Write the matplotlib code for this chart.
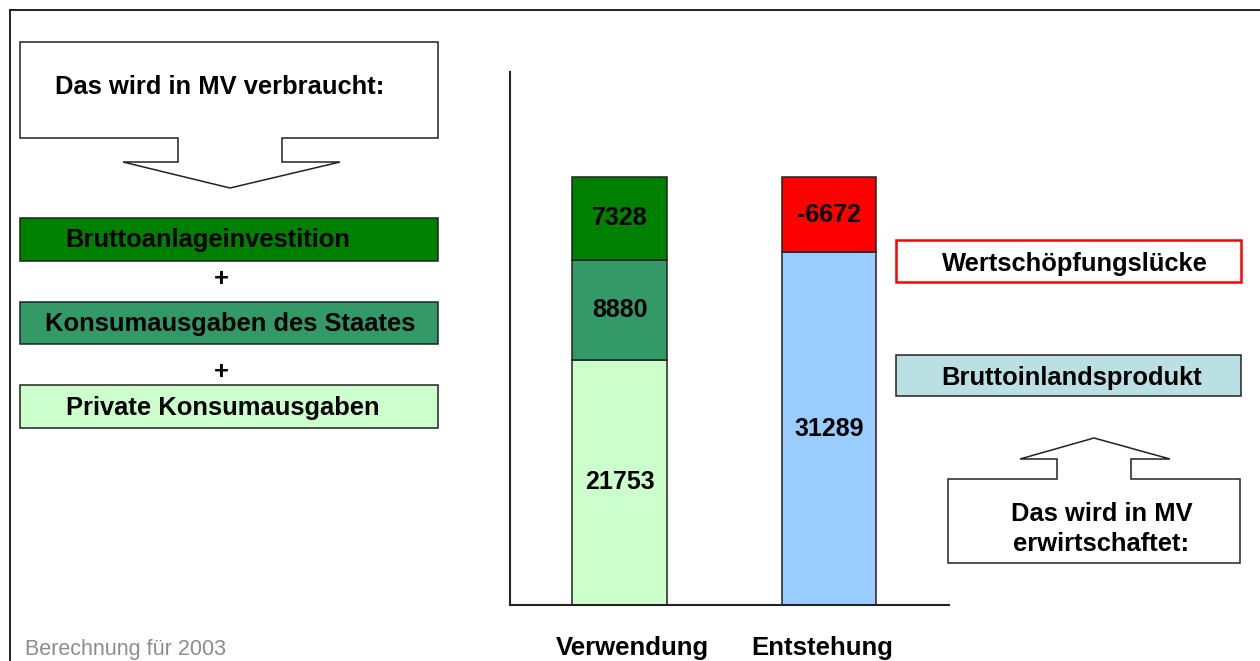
import matplotlib
matplotlib.use('Agg')
import matplotlib.pyplot as plt
from matplotlib.patches import Polygon, Rectangle

plt.rcParams['font.family'] = ['Liberation Sans', 'DejaVu Sans']

# Data
categories = ['Verwendung', 'Entstehung']
verwendung_parts = ['Private Konsumausgaben', 'Konsumausgaben des Staates', 'Bruttoanlageinvestition']
verwendung_values = [21753, 8880, 7328]
entstehung_parts = ['Bruttoinlandsprodukt', 'Wertschöpfungslücke']
entstehung_values = [31289, -6672]

dark_green = '#008000'
mid_green = '#339966'
light_green = '#CCFFCC'
light_blue = '#99CCFF'
red = '#FF0000'
teal = '#BBE0E3'
edge = '#222222'
boxFont = 18.4


def main(saveLocation):
    """Draw the Verwendung / Entstehung diagram."""

    fig = plt.figure(figsize=(12.6, 6.61), dpi=100)

    # Full-figure overlay in pixel coordinates for the boxes and arrows.
    ov = fig.add_axes([0, 0, 1, 1])
    ov.set_xlim(0, 1260)
    ov.set_ylim(661, 0)
    ov.axis('off')

    # Outer frame (only top and left edges visible in the crop).
    ov.plot([10, 1262], [10, 10], color=edge, lw=1.4)
    ov.plot([10, 10], [10, 665], color=edge, lw=1.4)

    # Down-arrow callout on the left.
    down = [(20, 42), (438, 42), (438, 138), (282, 138), (282, 162), (340, 162),
            (230, 188), (123, 162), (178, 162), (178, 138), (20, 138)]
    ov.add_patch(Polygon(down, closed=True, fc='white', ec=edge, lw=1.1))
    ov.text(220, 87, 'Das wird in MV verbraucht:', ha='center', va='center',
            fontsize=boxFont, fontweight='bold')

    # Component boxes on the left.
    boxes = [(218, 261, dark_green, verwendung_parts[2], 208),
             (302, 344, mid_green, verwendung_parts[1], 230),
             (385, 428, light_green, verwendung_parts[0], 223)]
    for top, bottom, color, label, tx in boxes:
        ov.add_patch(Rectangle((20, top), 418, bottom - top, fc=color, ec=edge, lw=1.1))
        ov.text(tx, (top + bottom) / 2 + 1, label, ha='center', va='center',
                fontsize=boxFont, fontweight='bold')
    for y in [279, 372]:
        ov.text(221, y, '+', ha='center', va='center', fontsize=boxFont, fontweight='bold')

    # Right-hand labels.
    ov.add_patch(Rectangle((896, 240), 345, 42, fc='white', ec=red, lw=1.8))
    ov.text(1075, 264, entstehung_parts[1], ha='center', va='center',
            fontsize=boxFont, fontweight='bold')
    ov.add_patch(Rectangle((896, 355), 345, 41, fc=teal, ec=edge, lw=1.1))
    ov.text(1072, 378, entstehung_parts[0], ha='center', va='center',
            fontsize=boxFont, fontweight='bold')

    # Up-arrow callout on the right.
    up = [(948, 479), (1057, 479), (1057, 459), (1020, 459), (1094, 438), (1170, 459),
          (1131, 459), (1131, 479), (1240, 479), (1240, 563), (948, 563)]
    ov.add_patch(Polygon(up, closed=True, fc='white', ec=edge, lw=1.1))
    ov.text(1102, 514, 'Das wird in MV', ha='center', va='center',
            fontsize=boxFont, fontweight='bold')
    ov.text(1101, 544, 'erwirtschaftet:', ha='center', va='center',
            fontsize=boxFont, fontweight='bold')

    # Footer and category labels.
    ov.text(25, 649, 'Berechnung für 2003', ha='left', va='center',
            fontsize=15.5, color='#8C8C8C')
    ov.text(632, 648, categories[0], ha='center', va='center', fontsize=18.5, fontweight='bold')
    ov.text(822, 648, categories[1], ha='center', va='center', fontsize=18.5, fontweight='bold')

    # Stacked bar chart.
    ax = fig.add_axes([510 / 1260, (661 - 605) / 661, (949 - 510) / 1260, (605 - 72) / 661])
    ax.patch.set_alpha(0)
    for side in ['top', 'right']:
        ax.spines[side].set_visible(False)
    for side in ['left', 'bottom']:
        ax.spines[side].set_linewidth(1.5)
        ax.spines[side].set_color(edge)
    ax.set_xticks([])
    ax.set_yticks([])

    total = sum(verwendung_values)
    ax.set_ylim(0, total * (605 - 72) / (605 - 177))
    ax.set_xlim(-0.523, 1.573)
    width = 0.45

    bottom = 0
    for value, color in zip(verwendung_values, [light_green, mid_green, dark_green]):
        ax.bar(0, value, width=width, bottom=bottom, color=color, edgecolor=edge, linewidth=1.1)
        ax.text(0, bottom + value / 2, str(value), ha='center', va='center',
                fontsize=18, fontweight='bold')
        bottom += value

    bottom = 0
    for value, color in zip(entstehung_values, [light_blue, red]):
        ax.bar(1, abs(value), width=width, bottom=bottom, color=color, edgecolor=edge, linewidth=1.1)
        ax.text(1, bottom + abs(value) / 2, str(value), ha='center', va='center',
                fontsize=18, fontweight='bold')
        bottom += abs(value)

    plt.savefig(saveLocation, dpi=100)


if __name__ == '__main__':
    main('out.png')
